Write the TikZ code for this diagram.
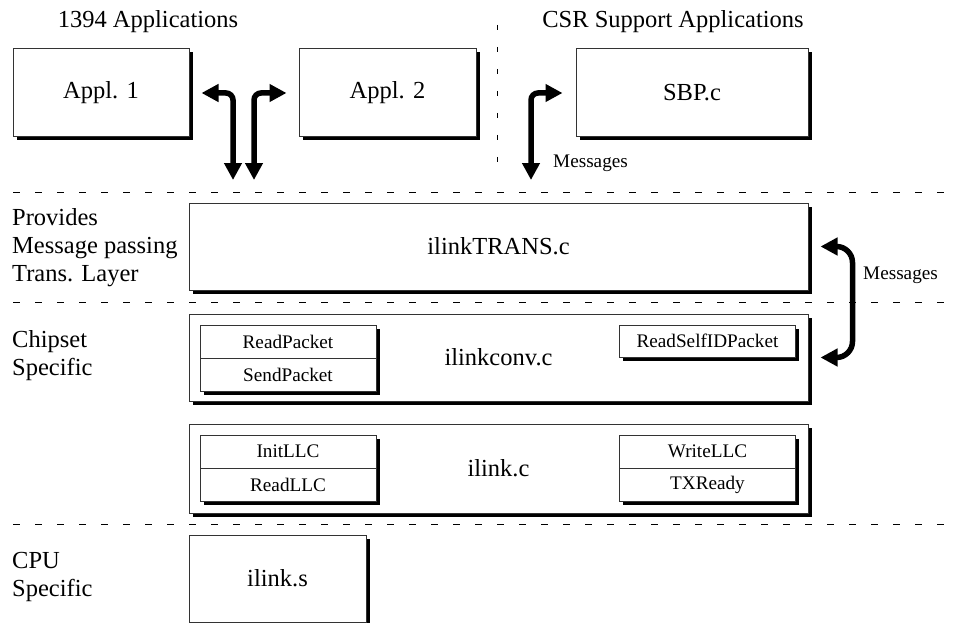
\documentclass[tikz,border=0pt]{standalone}
\usepackage{fontspec}
\setmainfont{Liberation Serif}
\usetikzlibrary{arrows.meta,shadows}
\begin{document}
\begin{tikzpicture}[x=1pt,y=-1pt,
  big/.style={font=\fontsize{24.5}{28}\selectfont},
  small/.style={font=\fontsize{19.2}{22}\selectfont},
  module/.style={draw=black!80, line width=1pt, fill=white, inner sep=0pt,
    general shadow={fill=black, shadow xshift=3.5pt, shadow yshift=-3.5pt}},
  bigbox/.style={module, big},
  subbox/.style={module, small, minimum width=176pt, minimum height=33pt},
  sep/.style={line width=1pt, dash pattern=on 7pt off 15pt},
  flow/.style={line width=5.5pt, rounded corners=7pt,
    {Triangle[width=17pt,length=17pt]}-{Triangle[width=17pt,length=17pt]}},
  layerlabel/.style={big, anchor=base west, inner sep=0pt},
  note/.style={small, anchor=west, inner sep=0pt}
]
\useasboundingbox (0,0) rectangle (961,623);

% layer separators
\draw[sep] (13,192) -- (945,192);
\draw[sep] (13,302) -- (945,302);
\draw[sep] (13,524) -- (945,524);
\draw[sep, dash pattern=on 5pt off 17pt] (497.5,25) -- (497.5,170);

% group titles
\node[big, anchor=base, inner sep=0pt] (ttl1) at (148,27.7) {1394 Applications};
\node[big, anchor=base, inner sep=0pt] (ttl2) at (673,27.7) {CSR Support Applications};

% application modules
\node[bigbox, minimum width=176pt, minimum height=88pt] (app1) at (101,93) {Appl. 1};
\node[bigbox, minimum width=177pt, minimum height=88pt] (app2) at (387.5,93) {Appl. 2};
\node[bigbox, minimum width=232pt, minimum height=88pt] (sbp) at (692,93) {SBP.c};

% driver layers
\node[bigbox, minimum width=619pt, minimum height=87pt] (trans) at (498.5,246.5) {ilinkTRANS.c};
\node[bigbox, minimum width=619pt, minimum height=87pt] (conv) at (498.5,357.5) {ilinkconv.c};
\node[bigbox, minimum width=619pt, minimum height=89pt] (ilinkc) at (498.5,468.5) {ilink.c};
\node[bigbox, minimum width=177pt, minimum height=87pt] (ilinks) at (277.5,578.5) {ilink.s};

% routines inside the layers
\node[subbox] (rdpkt) at (288,341.5) {ReadPacket};
\node[subbox] (sndpkt) at (288,374.5) {SendPacket};
\node[subbox, minimum height=32pt] (rsid) at (707.5,341) {ReadSelfIDPacket};
\node[subbox] (init) at (288,451.5) {InitLLC};
\node[subbox] (rdllc) at (288,484.5) {ReadLLC};
\node[subbox] (wrllc) at (707.5,451.5) {WriteLLC};
\node[subbox] (txr) at (707.5,484.5) {TXReady};

% layer descriptions
\node[layerlabel] (l1a) at (12,225) {Provides};
\node[layerlabel] (l1b) at (12,253) {Message passing};
\node[layerlabel] (l1c) at (12,281) {Trans. Layer};
\node[layerlabel] (l2a) at (12,347) {Chipset};
\node[layerlabel] (l2b) at (12,375) {Specific};
\node[layerlabel] (l3a) at (12,568) {CPU};
\node[layerlabel] (l3b) at (12,596) {Specific};

% message flow
\coordinate (d1) at (233,180);
\coordinate (d2) at (254,180);
\coordinate (d3) at (531,180);
\draw[flow, shorten <=12pt] (app1.east) -| (d1);
\draw[flow, shorten <=12pt] (app2.west) -| (d2);
\draw[flow, shorten <=13pt] (sbp.west) -| (d3);
\draw[flow, rounded corners=16pt, shorten <=12pt, shorten >=12pt]
  (trans.east) -- ++(44,0) |- (conv.east);

\node[note] (msg1) at (553,163) {Messages};
\node[note] (msg2) at (863,275) {Messages};
\end{tikzpicture}
\end{document}
